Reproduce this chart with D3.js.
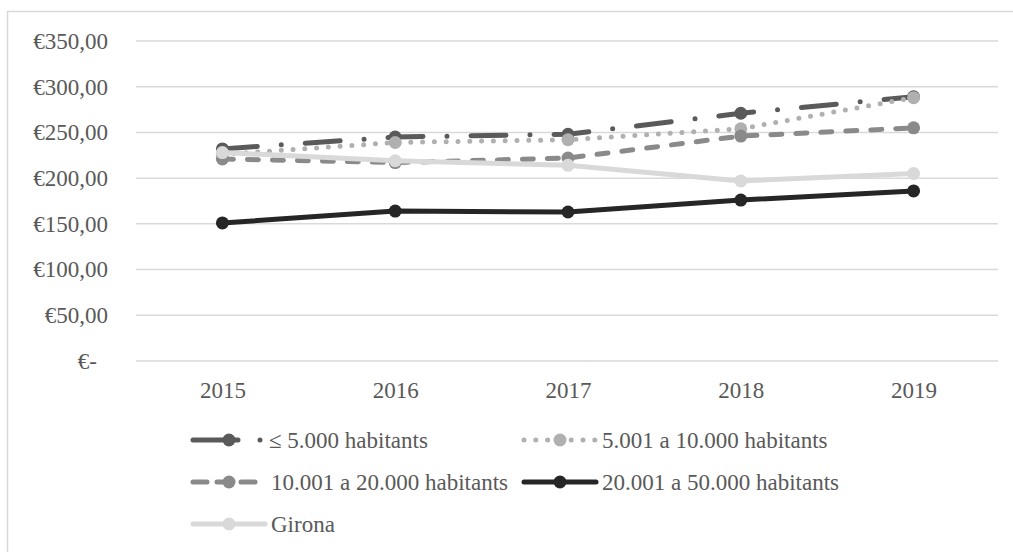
<!DOCTYPE html>
<html>
<head>
<meta charset="utf-8">
<script src="https://cdn.jsdelivr.net/npm/d3@7"></script>
<style>
  html, body { margin: 0; padding: 0; background: #fff; }
  svg { display: block; }
  svg text { font-family: "Liberation Serif", "Times New Roman", Times, "DejaVu Serif", serif !important; fill: #595959; }
</style>
</head>
<body>
<svg id="chart" width="1013" height="552"></svg>
<script>
const years = ["2015", "2016", "2017", "2018", "2019"];
const seriesNames = ["≤ 5.000 habitants", "5.001 a 10.000 habitants", "10.001 a 20.000 habitants", "20.001 a 50.000 habitants", "Girona"];
const valuesUpTo5000 = [232, 245, 248, 271, 289];
const values5001to10000 = [226, 239, 242, 254, 288];
const values10001to20000 = [221, 217, 222, 246, 255];
const values20001to50000 = [151, 164, 163, 176, 186];
const valuesGirona = [228, 219, 214, 197, 205];
const yTicks = [0, 50, 100, 150, 200, 250, 300, 350];

const seriesValues = [valuesUpTo5000, values5001to10000, values10001to20000, values20001to50000, valuesGirona];
const colors = ["#5a5a5a", "#b0b0b0", "#8a8a8a", "#262626", "#d9d9d9"];
const dashes = ["35,24,0,24", "0,11.8", "11,14", null, null];
const FONT = "'Liberation Serif', 'Times New Roman', Times, 'DejaVu Serif', serif";

const svg = d3.select("#chart");

// outer frame
svg.append("rect").attr("x", 7.5).attr("y", 11.5).attr("width", 1010).attr("height", 560)
  .attr("fill", "none").attr("stroke", "#d9d9d9").attr("stroke-width", 1.5);

const x = d3.scalePoint().domain(years).range([136, 1000]).padding(0.5);
const y = d3.scaleLinear().domain([0, 350]).range([361, 41]);

// gridlines
svg.append("g").selectAll("line").data(yTicks).join("line")
  .attr("x1", 136).attr("x2", 998)
  .attr("y1", d => y(d)).attr("y2", d => y(d))
  .attr("stroke", "#d9d9d9").attr("stroke-width", 1.5);

// y axis
const fmt = v => v === 0 ? "€-" : "€" + v.toFixed(2).replace(".", ",");
const yAxis = svg.append("g").attr("transform", "translate(108,0)")
  .call(d3.axisLeft(y).tickValues(yTicks).tickFormat(fmt).tickSize(0).tickPadding(0));
yAxis.attr("font-family", null).attr("font-size", null);
yAxis.select(".domain").remove();
yAxis.selectAll("text").style("font-size", "23px").style("font-family", FONT).attr("fill", "#595959")
  .attr("dx", d => d === 0 ? -11 : 0);

// x axis
const xAxis = svg.append("g").attr("transform", "translate(0,382)")
  .call(d3.axisBottom(x).tickSize(0).tickPadding(0));
xAxis.attr("font-family", null).attr("font-size", null);
xAxis.select(".domain").remove();
xAxis.selectAll("text").style("font-size", "23px").style("font-family", FONT).attr("fill", "#595959");

// lines
const line = d3.line().x((d, i) => x(years[i])).y(d => y(d));
seriesValues.forEach((vals, s) => {
  svg.append("path").datum(vals)
    .attr("d", line)
    .attr("fill", "none")
    .attr("stroke", colors[s])
    .attr("stroke-width", 5)
    .attr("stroke-linecap", "round")
    .attr("stroke-linejoin", "round")
    .attr("stroke-dasharray", dashes[s]);
  svg.append("g").selectAll("circle").data(vals).join("circle")
    .attr("cx", (d, i) => x(years[i])).attr("cy", d => y(d))
    .attr("r", 6.5).attr("fill", colors[s]);
});

// legend
const legendPos = [
  { sx: 193, row: 440 }, { sx: 524, row: 440 },
  { sx: 193, row: 482 }, { sx: 524, row: 482 },
  { sx: 193, row: 524 }
];
const legend = svg.append("g");
seriesNames.forEach((name, s) => {
  const p = legendPos[s];
  const g = legend.append("g");
  g.append("line")
    .attr("x1", p.sx).attr("x2", p.sx + 72)
    .attr("y1", p.row).attr("y2", p.row)
    .attr("stroke", colors[s]).attr("stroke-width", 5)
    .attr("stroke-linecap", "round")
    .attr("stroke-dasharray", s === 0 ? "45,22,0,30" : (s === 2 ? "14,10" : dashes[s]));
  g.append("circle").attr("cx", p.sx + 36).attr("cy", p.row).attr("r", 6.5).attr("fill", colors[s]);
  g.append("text").attr("x", p.sx + (s === 0 ? 76 : 78)).attr("y", p.row).attr("dy", "0.35em")
    .style("font-size", "23px").style("font-family", FONT).text(name);
});
</script>
</body>
</html>
